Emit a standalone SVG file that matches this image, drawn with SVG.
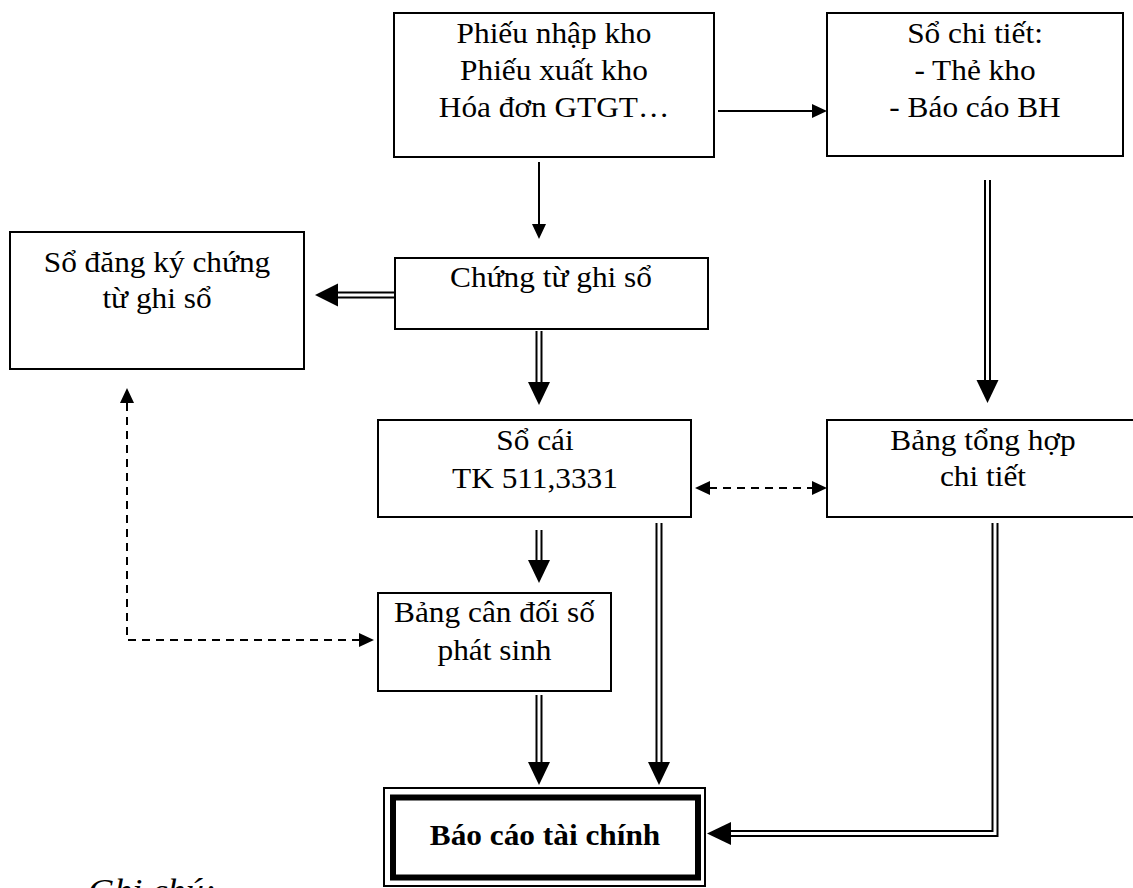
<svg xmlns="http://www.w3.org/2000/svg" width="1133" height="888" viewBox="0 0 1133 888">
  <style>
    .box { fill: #fff; stroke: #000; stroke-width: 2; }
    .lbl { font-family: "Liberation Serif", "Times New Roman", serif; font-size: 29px; fill: #000; text-anchor: middle; }
    .bold { font-weight: bold; }
    .note { font-family: "Liberation Serif", "Times New Roman", serif; font-size: 33px; font-style: italic; fill: #000; }
    .single { fill: none; stroke: #000; stroke-width: 2; }
    .dbl-out { fill: none; stroke: #000; stroke-width: 7; stroke-linejoin: miter; }
    .dbl-in { fill: none; stroke: #fff; stroke-width: 3; stroke-linejoin: miter; }
    .dash { fill: none; stroke: #000; stroke-width: 2; stroke-dasharray: 8 6; }
    .head { fill: #000; stroke: none; }
  </style>

  <rect width="1133" height="888" fill="#fff"/>

  <!-- connectors -->
  <g id="connectors">
    <!-- source documents -> detail books -->
    <line class="single" x1="718" y1="111" x2="813" y2="111"/>
    <polygon class="head" points="812,104 827,111 812,118"/>

    <!-- source documents -> voucher -->
    <line class="single" x1="539" y1="162" x2="539" y2="225"/>
    <polygon class="head" points="532,224 539,239 546,224"/>

    <!-- voucher -> voucher register -->
    <line class="dbl-out" x1="398" y1="295" x2="336" y2="295"/>
    <line class="dbl-in" x1="398" y1="295" x2="336" y2="295"/>
    <polygon class="head" points="338,283.5 315,295 338,306.5"/>

    <!-- voucher -> ledger -->
    <line class="dbl-out" x1="539" y1="331" x2="539" y2="384"/>
    <line class="dbl-in" x1="539" y1="331" x2="539" y2="384"/>
    <polygon class="head" points="528,382 539,405 550,382"/>

    <!-- detail books -> detail summary -->
    <line class="dbl-out" x1="987.5" y1="180" x2="987.5" y2="382"/>
    <line class="dbl-in" x1="987.5" y1="180" x2="987.5" y2="382"/>
    <polygon class="head" points="976.5,380 987.5,403 998.5,380"/>

    <!-- ledger <-> detail summary (reconciliation) -->
    <line class="dash" x1="709" y1="488" x2="813" y2="488"/>
    <polygon class="head" points="695,488 710,481 710,495"/>
    <polygon class="head" points="827,488 812,481 812,495"/>

    <!-- ledger -> trial balance -->
    <line class="dbl-out" x1="539" y1="530" x2="539" y2="562"/>
    <line class="dbl-in" x1="539" y1="530" x2="539" y2="562"/>
    <polygon class="head" points="528,560 539,583 550,560"/>

    <!-- ledger -> financial statements -->
    <line class="dbl-out" x1="659" y1="523" x2="659" y2="764"/>
    <line class="dbl-in" x1="659" y1="523" x2="659" y2="764"/>
    <polygon class="head" points="648,762 659,785 670,762"/>

    <!-- trial balance -> financial statements -->
    <line class="dbl-out" x1="539" y1="695" x2="539" y2="764"/>
    <line class="dbl-in" x1="539" y1="695" x2="539" y2="764"/>
    <polygon class="head" points="528,762 539,785 550,762"/>

    <!-- detail summary -> financial statements -->
    <polyline class="dbl-out" points="995,523 995,833.5 729,833.5"/>
    <polyline class="dbl-in" points="995,523 995,833.5 729,833.5"/>
    <polygon class="head" points="731,822 707,833.5 731,845"/>

    <!-- voucher register <-> trial balance (reconciliation) -->
    <polyline class="dash" points="360,640 127,640 127,402"/>
    <polygon class="head" points="374,640 359,633 359,647"/>
    <polygon class="head" points="127,388 120,403 134,403"/>
  </g>

  <!-- nodes -->
  <g id="chung-tu-goc">
    <rect class="box" x="394" y="13" width="320" height="144"/>
    <text class="lbl" transform="translate(554 43) scale(1.08 1)">Phiếu nhập kho</text>
    <text class="lbl" transform="translate(554 80) scale(1.08 1)">Phiếu xuất kho</text>
    <text class="lbl" transform="translate(554 117) scale(1.08 1)">Hóa đơn GTGT…</text>
  </g>

  <g id="so-chi-tiet">
    <rect class="box" x="827" y="13" width="296" height="143"/>
    <text class="lbl" transform="translate(975 43) scale(1.08 1)">Sổ chi tiết:</text>
    <text class="lbl" transform="translate(975 80) scale(1.08 1)">- Thẻ kho</text>
    <text class="lbl" transform="translate(975 117) scale(1.08 1)">- Báo cáo BH</text>
  </g>

  <g id="chung-tu-ghi-so">
    <rect class="box" x="395" y="258" width="313" height="71"/>
    <text class="lbl" transform="translate(551 287) scale(1.08 1)">Chứng từ ghi sổ</text>
  </g>

  <g id="so-dang-ky">
    <rect class="box" x="10" y="232" width="294" height="137"/>
    <text class="lbl" transform="translate(157 272) scale(1.08 1)">Sổ đăng ký chứng</text>
    <text class="lbl" transform="translate(157 308) scale(1.08 1)">từ ghi sổ</text>
  </g>

  <g id="so-cai">
    <rect class="box" x="378" y="420" width="313" height="97"/>
    <text class="lbl" transform="translate(535 450) scale(1.08 1)">Sổ cái</text>
    <text class="lbl" transform="translate(535 488) scale(1.08 1)">TK 511,3331</text>
  </g>

  <g id="bang-tong-hop">
    <rect class="box" x="827" y="420" width="314" height="97"/>
    <text class="lbl" transform="translate(983 450) scale(1.08 1)">Bảng tổng hợp</text>
    <text class="lbl" transform="translate(983 486) scale(1.08 1)">chi tiết</text>
  </g>

  <g id="bang-can-doi">
    <rect class="box" x="378" y="593" width="233" height="98"/>
    <text class="lbl" transform="translate(494.5 622) scale(1.08 1)">Bảng cân đối số</text>
    <text class="lbl" transform="translate(494.5 660) scale(1.08 1)">phát sinh</text>
  </g>

  <g id="bao-cao-tai-chinh">
    <rect x="384" y="788" width="321" height="98" fill="#fff" stroke="#000" stroke-width="2"/>
    <rect x="393" y="797.5" width="305" height="80" fill="none" stroke="#000" stroke-width="6"/>
    <text class="lbl bold" transform="translate(545 845) scale(1.08 1)">Báo cáo tài chính</text>
  </g>

  <text class="note" transform="translate(88 902) scale(1.1 1)">Ghi chú:</text>
</svg>
